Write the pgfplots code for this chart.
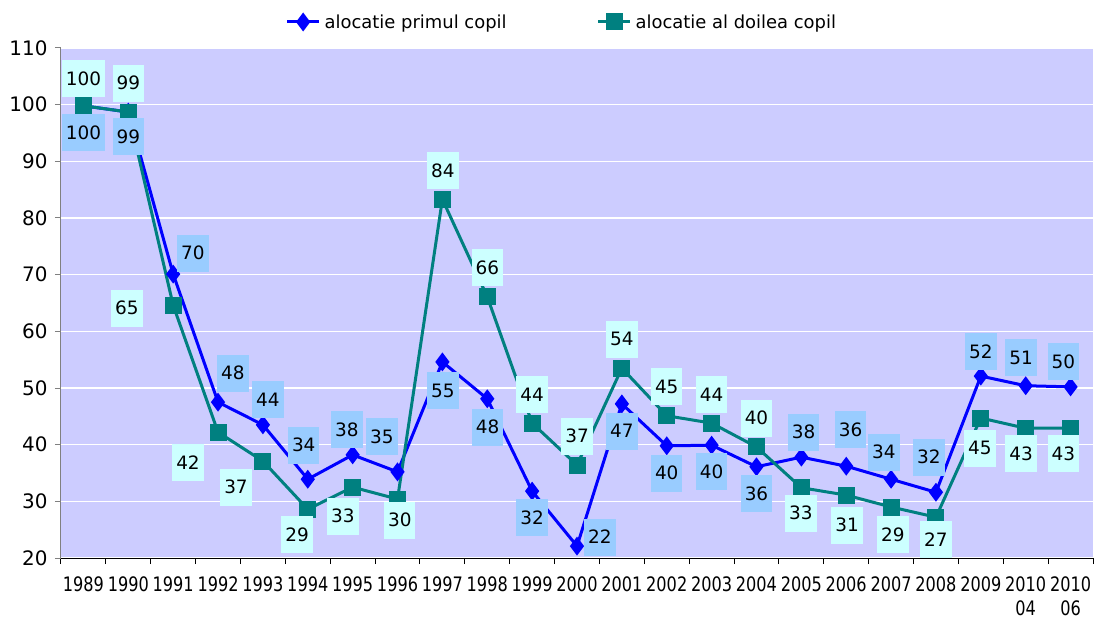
\documentclass[border=0pt]{standalone}
\usepackage{fontspec}
\setmainfont{DejaVu Sans}
\newfontfamily\narrowfont{DejaVu Sans}[FakeStretch=0.81]
\usepackage{pgfplots}
\pgfplotsset{compat=1.18}

\definecolor{plotbg}{HTML}{CCCCFF}
\definecolor{serblue}{HTML}{0000FF}
\definecolor{serteal}{HTML}{008080}
\definecolor{boxblue}{HTML}{99CCFF}
\definecolor{boxteal}{HTML}{CCFFFF}

\begin{document}
\begin{tikzpicture}
\useasboundingbox (-61bp,-63bp) rectangle (1033bp,558bp);
\begin{axis}[
    scale only axis,
    width=1032bp, height=510bp,
    xmin=-0.5, xmax=22.5,
    ymin=20, ymax=110,
    axis background/.style={fill=plotbg},
    axis x line*=bottom, axis y line*=left,
    x axis line style={black, line width=1bp},
    y axis line style={gray, line width=1bp},
    xtick={-0.5,0.5,...,22.5},
    x tick label as interval,
    xticklabels={1989,1990,1991,1992,1993,1994,1995,1996,1997,1998,1999,2000,2001,2002,2003,2004,2005,2006,2007,2008,2009,{2010\\04},{2010\\06}},
    xticklabel style={font=\narrowfont\fontsize{20}{24}\selectfont, align=center,
        inner sep=0pt, yshift=-13bp},
    ytick={20,30,...,110},
    yticklabel style={font=\fontsize{20}{22}\selectfont, xshift=-4bp},
    /pgf/number format/assume math mode=true,
    tick align=outside,
    major tick length=6bp,
    xtick style={black, line width=1bp},
    ytick style={gray, line width=1bp},
    ymajorgrids,
    major grid style={white, line width=1.5bp},
    legend columns=2,
    legend style={at={(axis description cs:0.2175,1.051)}, anchor=west,
        draw=none, fill=none, inner sep=0pt,
        font=\fontsize{18}{20}\selectfont,
        /tikz/every even column/.append style={column sep=88bp},
        /tikz/every odd column/.append style={column sep=2bp}},
    legend image code/.code={\draw[mark repeat=2, mark phase=2, #1]
        plot coordinates {(0bp,0bp) (16bp,0bp) (32bp,0bp)};},
]
% alocatie primul copil
\addplot[serblue, line width=3bp, mark=diamond*, mark size=7bp,
    mark options={solid}] coordinates {
    (0,99.8) (1,98.7) (2,70.1) (3,47.5) (4,43.5) (5,33.9) (6,38.2) (7,35.2)
    (8,54.6) (9,48.1) (10,31.8) (11,22.1) (12,47.2) (13,39.8) (14,39.9)
    (15,36.1) (16,37.8) (17,36.2) (18,33.9) (19,31.6) (20,52.1) (21,50.4) (22,50.2)};
\addlegendentry{alocatie primul copil}
% alocatie al doilea copil
\addplot[serteal, line width=3bp, mark=square*, mark size=7bp,
    mark options={solid}] coordinates {
    (0,99.8) (1,98.7) (2,64.6) (3,42.2) (4,37.1) (5,28.6) (6,32.5) (7,30.4)
    (8,83.3) (9,66.1) (10,43.8) (11,36.4) (12,53.5) (13,45.1) (14,43.8)
    (15,39.6) (16,32.4) (17,31.1) (18,29.0) (19,27.2) (20,44.7) (21,42.9) (22,42.9)};
\addlegendentry{alocatie al doilea copil}

% data labels, primul copil
\addplot[draw=none, mark=none, forget plot, point meta=explicit symbolic,
    nodes near coords,
    every node near coord/.append style={anchor=center, fill=boxblue, text=black,
        font=\fontsize{18.5}{20}\selectfont, inner xsep=4bp, inner ysep=0pt,
        minimum height=37bp}] coordinates {
    (0,95.0)[100] (1,94.3)[99] (2.44,73.8)[70] (3.33,52.6)[48] (4.11,47.9)[44]
    (4.91,39.9)[34] (5.87,42.6)[38] (6.65,41.4)[35] (8.01,49.5)[55] (9.01,43.1)[48]
    (10,27.1)[32] (11.51,23.7)[22] (12,42.4)[47] (13,35.0)[40] (14,35.2)[40]
    (15,31.3)[36] (16.05,42.2)[38] (17.1,42.6)[36] (17.84,38.7)[34] (18.84,37.8)[32]
    (20,56.4)[52] (20.9,55.3)[51] (21.84,54.6)[50]};

% data labels, al doilea copil
\addplot[draw=none, mark=none, forget plot, point meta=explicit symbolic,
    nodes near coords,
    every node near coord/.append style={anchor=center, fill=boxteal, text=black,
        font=\fontsize{18.5}{20}\selectfont, inner xsep=4bp, inner ysep=0pt,
        minimum height=37bp}] coordinates {
    (0,104.6)[100] (1,103.8)[99] (0.97,64.1)[65] (2.33,36.8)[42] (3.4,32.5)[37]
    (4.76,24.1)[29] (5.78,27.4)[33] (7.05,26.7)[30] (8.01,88.3)[84] (9,71.2)[66]
    (10,48.8)[44] (11,41.5)[37] (12,58.6)[54] (13,50.2)[45] (14,48.8)[44]
    (15,44.7)[40] (15.99,27.9)[33] (17.02,25.8)[31] (18.04,24.1)[29] (19,23.2)[27]
    (19.98,39.4)[45] (20.9,38.4)[43] (21.84,38.4)[43]};
\end{axis}
\end{tikzpicture}
\end{document}
